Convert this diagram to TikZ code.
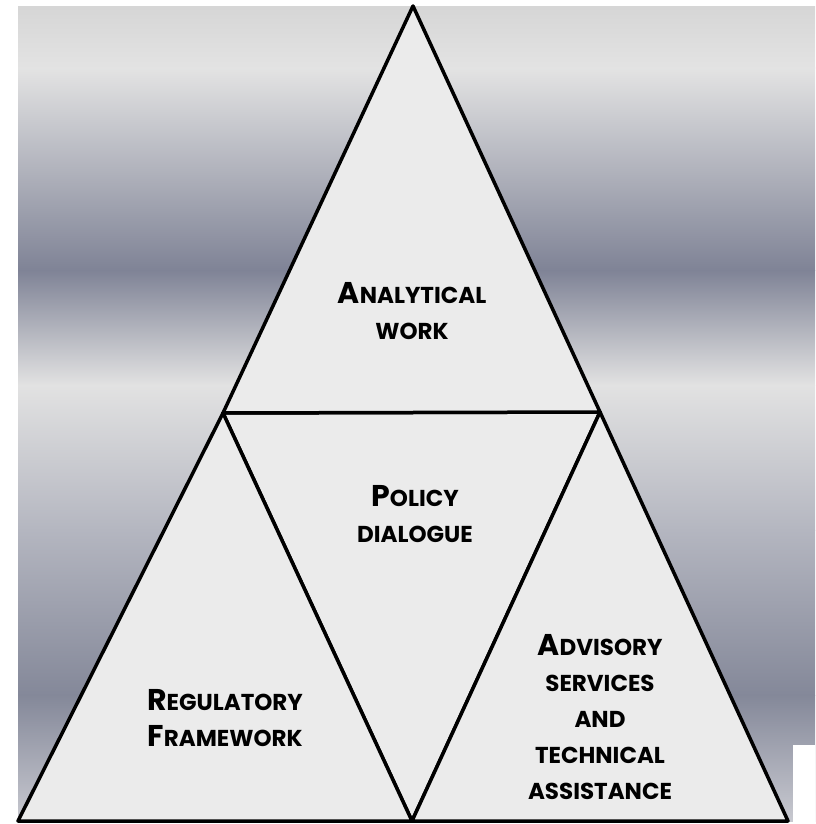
\documentclass[tikz,border=0pt]{standalone}
\usepackage{fontspec}
\newfontfamily\pf{Poppins}
\definecolor{fillg}{HTML}{EBEBEB}
\definecolor{bgA}{HTML}{D6D6D6}
\definecolor{bgB}{HTML}{E3E3E3}
\definecolor{bgC}{HTML}{7F8396}
\definecolor{bgD}{HTML}{E2E2E2}
\definecolor{bgE}{HTML}{B4B6C0}
\definecolor{bgF}{HTML}{848899}
\definecolor{bgG}{HTML}{C8C9D0}
\newcommand\bigc[1]{{\fontsize{30}{36}\selectfont #1}}
\begin{document}
\begin{tikzpicture}[x=1pt,y=-1pt,
  lbl/.style={anchor=north, inner sep=0pt, align=center, font=\pf\bfseries\fontsize{23}{36}\selectfont},
  tri/.style={draw=black, line width=3.5pt, line join=round, fill=fillg}]
\useasboundingbox (0,0) rectangle (815,824);
% background gradient bands
\shade[top color=bgA, bottom color=bgB] (18,7) rectangle (815,68.5);
\shade[top color=bgB, bottom color=bgC] (18,68) rectangle (815,270.5);
\shade[top color=bgC, bottom color=bgD] (18,270) rectangle (815,385.5);
\shade[top color=bgD, bottom color=bgE] (18,385) rectangle (815,530.5);
\shade[top color=bgE, bottom color=bgF] (18,530) rectangle (815,695.5);
\shade[top color=bgF, bottom color=bgG] (18,695) rectangle (815,821);
\fill[white] (793,745) rectangle (815,824);
% vertices
\coordinate (T) at (413,6);
\coordinate (L) at (223,413);
\coordinate (R) at (600,412);
\coordinate (BL) at (18,821);
\coordinate (BM) at (412,821);
\coordinate (BR) at (788,821);
% triangles
\filldraw[tri] (L) -- (R) -- (BM) -- cycle;
\filldraw[tri] (T) -- (L) -- (R) -- cycle;
\filldraw[tri] (L) -- (BL) -- (BM) -- cycle;
\filldraw[tri] (R) -- (BM) -- (BR) -- cycle;
% labels
\node[lbl] (ana) at (412,282) {\bigc{A}NALYTICAL\\WORK};
\node[lbl] (pol) at (415,485) {\bigc{P}OLICY\\DIALOGUE};
\node[lbl] (reg) at (225,689) {\bigc{R}EGULATORY\\\bigc{F}RAMEWORK};
\node[lbl] (adv) at (600,634) {\bigc{A}DVISORY\\SERVICES\\AND\\TECHNICAL\\ASSISTANCE};
\end{tikzpicture}
\end{document}
